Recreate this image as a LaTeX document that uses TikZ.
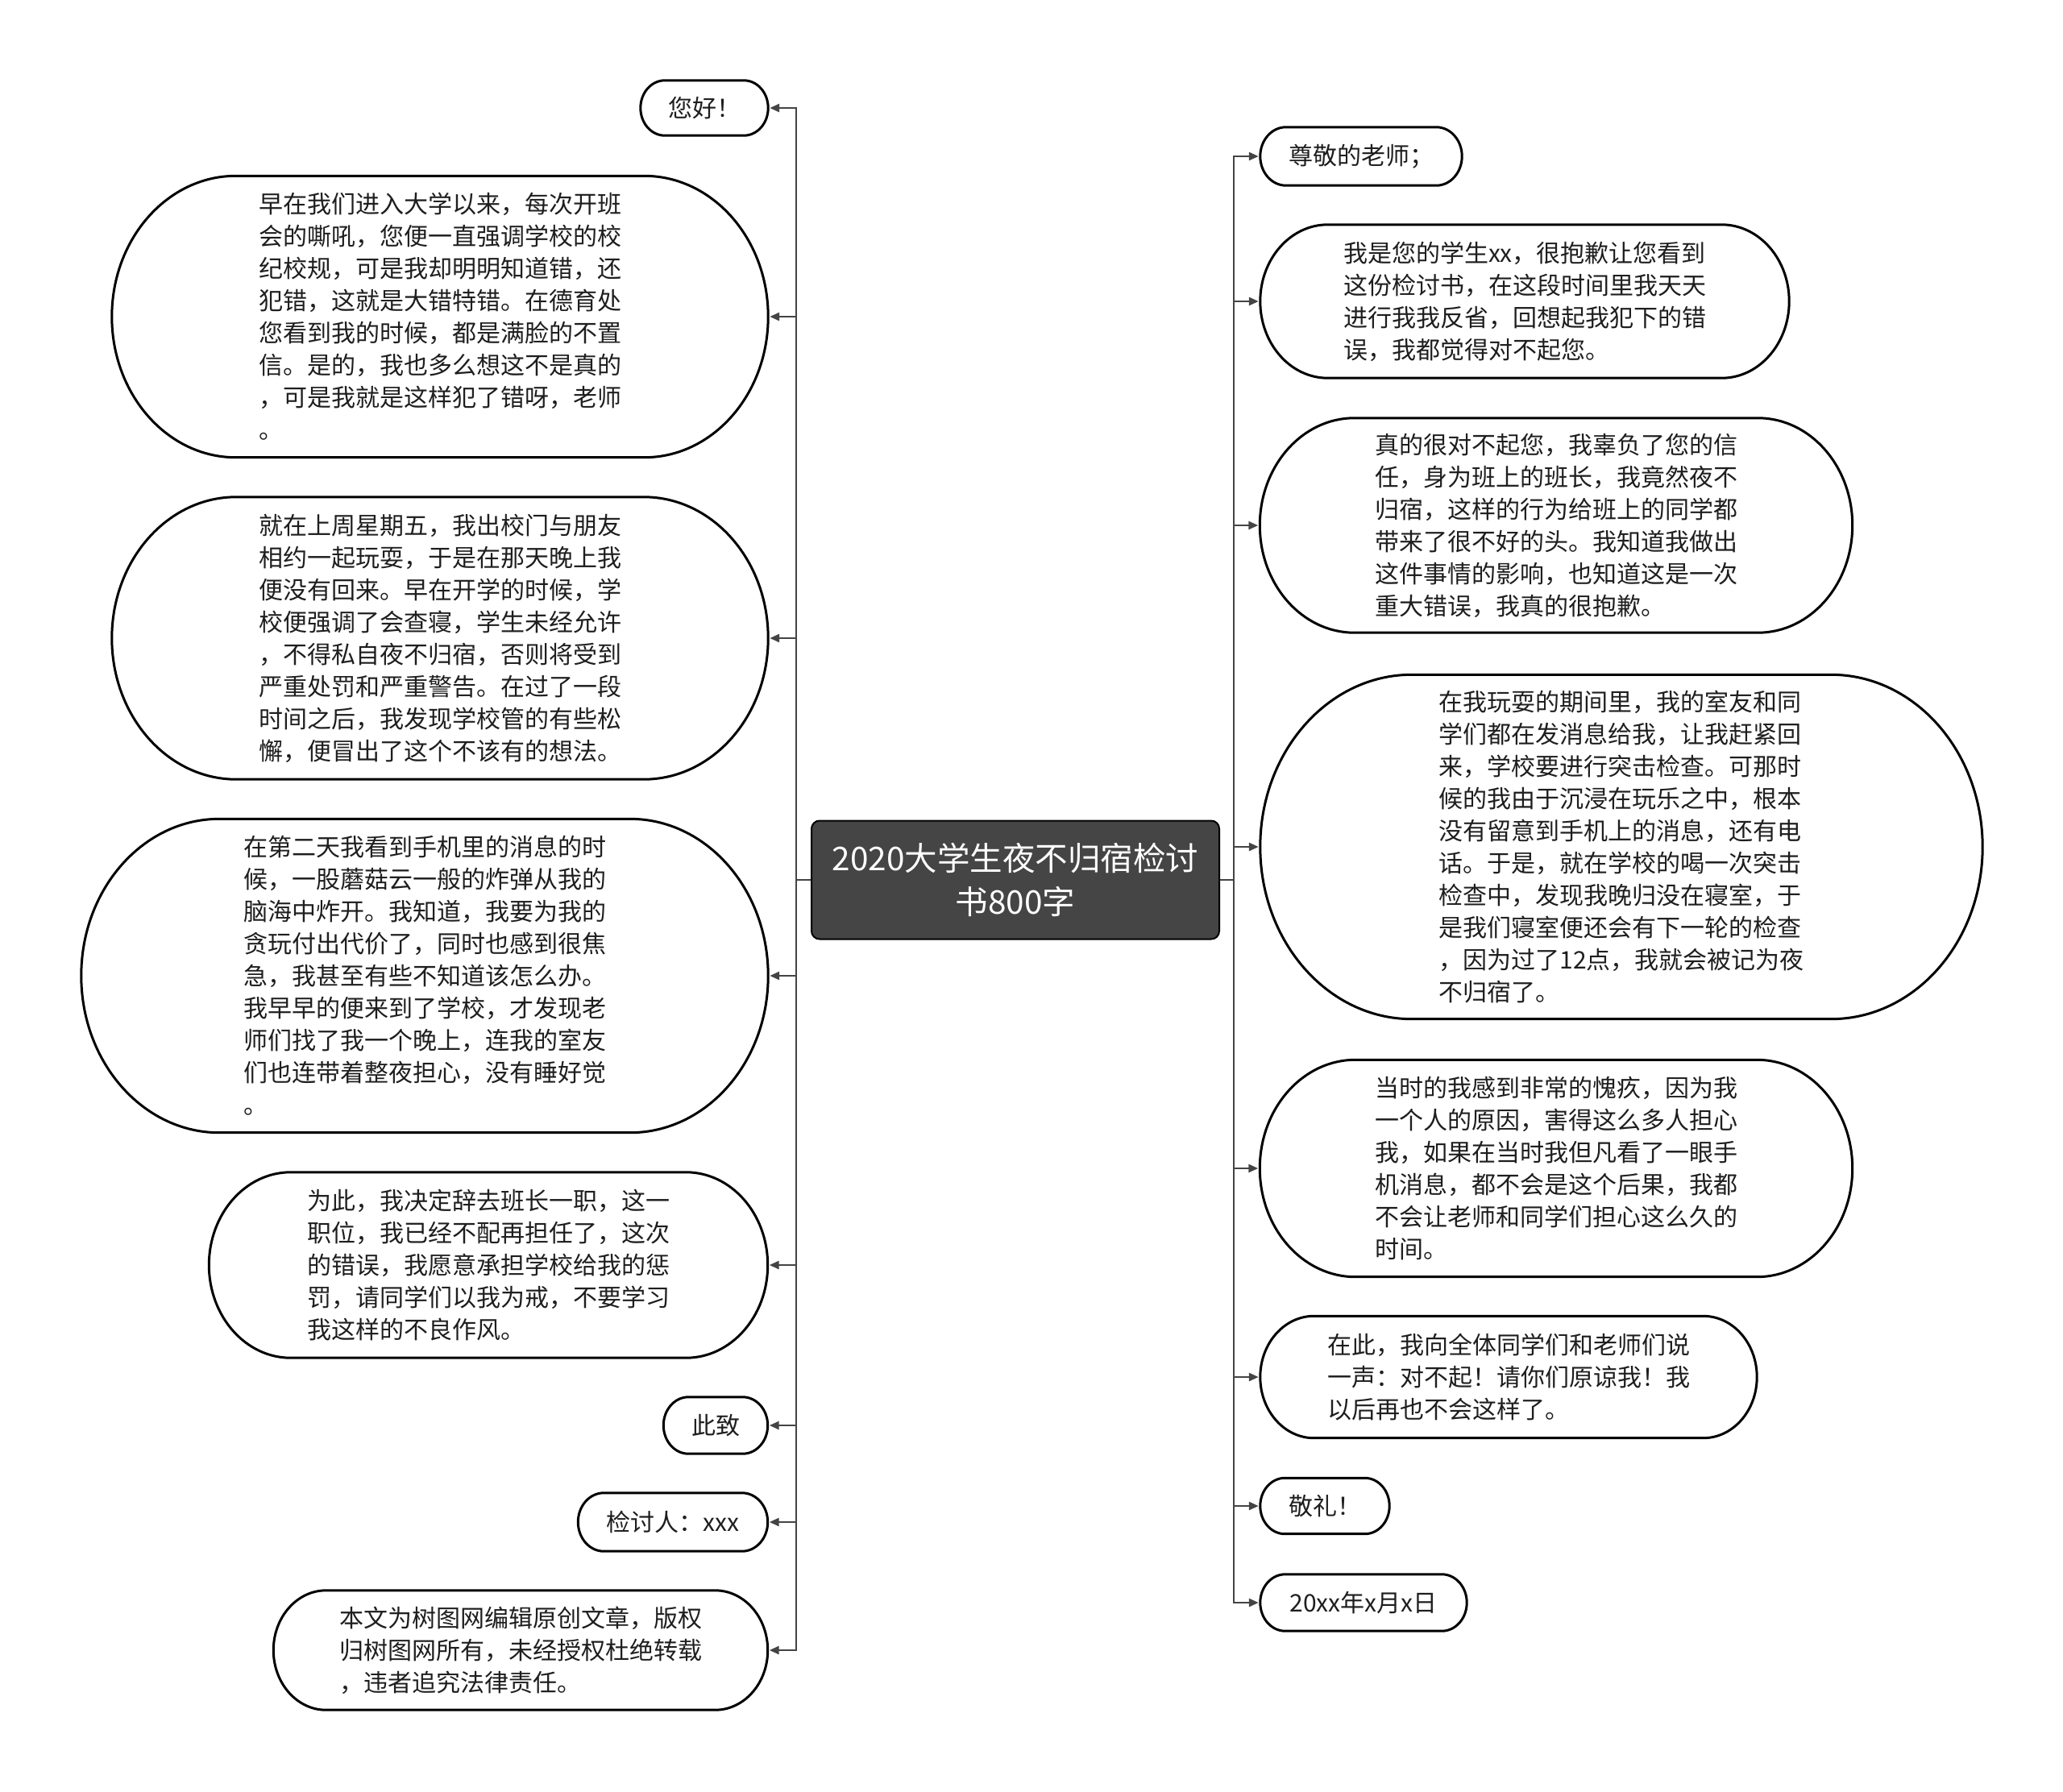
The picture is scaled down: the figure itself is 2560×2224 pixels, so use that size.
\documentclass[tikz,border=0pt]{standalone}
\usepackage{fontspec}
\setmainfont{Noto Sans CJK SC}
\usetikzlibrary{calc,arrows.meta}
\definecolor{linegray}{HTML}{444444}
\definecolor{centerfill}{HTML}{454545}
\definecolor{txtcol}{HTML}{1E1E1E}
\newcommand\stadshape[1]{%
  \draw[nodeline] let \p1=(#1.north west), \p2=(#1.south east),
    \n1={(\y1-\y2)/2}, \n2={0.88*(\y1-\y2)/2} in
    (\x1+\n2,\y1) -- (\x2-\n2,\y1)
    arc[start angle=90,end angle=-90,x radius=\n2,y radius=\n1]
    -- (\x1+\n2,\y2)
    arc[start angle=270,end angle=90,x radius=\n2,y radius=\n1] -- cycle;}
\begin{document}
\begin{tikzpicture}[x=1pt,y=-1pt,
  nodeline/.style={line width=3pt,draw=black},
  conn/.style={line width=2.6pt,draw=linegray,-{Triangle[length=12pt,width=10pt]},shorten >=2pt},
  trunk/.style={line width=2.6pt,draw=linegray},
  txt/.style={inner sep=0pt,align=left,text=txtcol,font=\fontsize{30}{40}\selectfont},
  centerbox/.style={draw=black,line width=2pt,fill=centerfill,rounded corners=10pt,text=white,
    align=center,inner sep=0pt,font=\fontsize{40.5}{54}\selectfont,minimum width=506pt,minimum height=147pt}]
\useasboundingbox (0,0) rectangle (2560,2224);
\fill[white] (0,0) rectangle (2560,2224);

% central node
\node[centerbox] (c) at (1260,1092) {2020大学生夜不归宿检讨\\书800字};
\coordinate (lt) at (988,1092);
\coordinate (rt) at (1531,1092);

% left nodes
\node[txt,minimum width=158pt,minimum height=68pt] (l1) at (874,134) {您好！};
\node[txt,minimum width=814pt,minimum height=349pt] (l2) at (546,393) {早在我们进入大学以来，每次开班\\会的嘶吼，您便一直强调学校的校\\纪校规，可是我却明明知道错，还\\犯错，这就是大错特错。在德育处\\您看到我的时候，都是满脸的不置\\信。是的，我也多么想这不是真的\\，可是我就是这样犯了错呀，老师\\。};
\node[txt,minimum width=814pt,minimum height=350pt] (l3) at (546,792) {就在上周星期五，我出校门与朋友\\相约一起玩耍，于是在那天晚上我\\便没有回来。早在开学的时候，学\\校便强调了会查寝，学生未经允许\\，不得私自夜不归宿，否则将受到\\严重处罚和严重警告。在过了一段\\时间之后，我发现学校管的有些松\\懈，便冒出了这个不该有的想法。};
\node[txt,minimum width=852pt,minimum height=389pt] (l4) at (527,1211) {在第二天我看到手机里的消息的时\\候，一股蘑菇云一般的炸弹从我的\\脑海中炸开。我知道，我要为我的\\贪玩付出代价了，同时也感到很焦\\急，我甚至有些不知道该怎么办。\\我早早的便来到了学校，才发现老\\师们找了我一个晚上，连我的室友\\们也连带着整夜担心，没有睡好觉\\。};
\node[txt,minimum width=693pt,minimum height=230pt] (l5) at (606,1570) {为此，我决定辞去班长一职，这一\\职位，我已经不配再担任了，这次\\的错误，我愿意承担学校给我的惩\\罚，请同学们以我为戒，不要学习\\我这样的不良作风。};
\node[txt,minimum width=129pt,minimum height=70pt] (l6) at (888,1769) {此致};
\node[txt,minimum width=235pt,minimum height=72pt] (l7) at (835,1889) {检讨人：xxx};
\node[txt,minimum width=613pt,minimum height=148pt] (l8) at (646,2048) {本文为树图网编辑原创文章，版权\\归树图网所有，未经授权杜绝转载\\，违者追究法律责任。};

% right nodes
\node[txt,minimum width=250pt,minimum height=72pt] (r1) at (1689,194) {尊敬的老师；};
\node[txt,minimum width=656pt,minimum height=190pt] (r2) at (1892,374) {我是您的学生xx，很抱歉让您看到\\这份检讨书，在这段时间里我天天\\进行我我反省，回想起我犯下的错\\误，我都觉得对不起您。};
\node[txt,minimum width=735pt,minimum height=266pt] (r3) at (1931,652) {真的很对不起您，我辜负了您的信\\任，身为班上的班长，我竟然夜不\\归宿，这样的行为给班上的同学都\\带来了很不好的头。我知道我做出\\这件事情的影响，也知道这是一次\\重大错误，我真的很抱歉。};
\node[txt,minimum width=896pt,minimum height=427pt] (r4) at (2012,1051) {在我玩耍的期间里，我的室友和同\\学们都在发消息给我，让我赶紧回\\来，学校要进行突击检查。可那时\\候的我由于沉浸在玩乐之中，根本\\没有留意到手机上的消息，还有电\\话。于是，就在学校的喝一次突击\\检查中，发现我晚归没在寝室，于\\是我们寝室便还会有下一轮的检查\\，因为过了12点，我就会被记为夜\\不归宿了。};
\node[txt,minimum width=735pt,minimum height=269pt] (r5) at (1931,1450) {当时的我感到非常的愧疚，因为我\\一个人的原因，害得这么多人担心\\我，如果在当时我但凡看了一眼手\\机消息，都不会是这个后果，我都\\不会让老师和同学们担心这么久的\\时间。};
\node[txt,minimum width=616pt,minimum height=151pt] (r6) at (1872,1709) {在此，我向全体同学们和老师们说\\一声：对不起！请你们原谅我！我\\以后再也不会这样了。};
\node[txt,minimum width=160pt,minimum height=69pt] (r7) at (1644,1869) {敬礼！};
\node[txt,minimum width=256pt,minimum height=70pt] (r8) at (1692,1989) {20xx年x月x日};

% outlines
\foreach \nm in {l1,l2,l3,l4,l5,l6,l7,l8,r1,r2,r3,r4,r5,r6,r7,r8} {\stadshape{\nm}}

% connectors
\draw[trunk] (c.west) -- (lt);
\draw[trunk] (c.east) -- (rt);
\foreach \nm in {l1,l2,l3,l4,l5,l6,l7,l8} {\draw[conn] (lt) |- (\nm.east);}
\foreach \nm in {r1,r2,r3,r4,r5,r6,r7,r8} {\draw[conn] (rt) |- (\nm.west);}
\end{tikzpicture}
\end{document}
